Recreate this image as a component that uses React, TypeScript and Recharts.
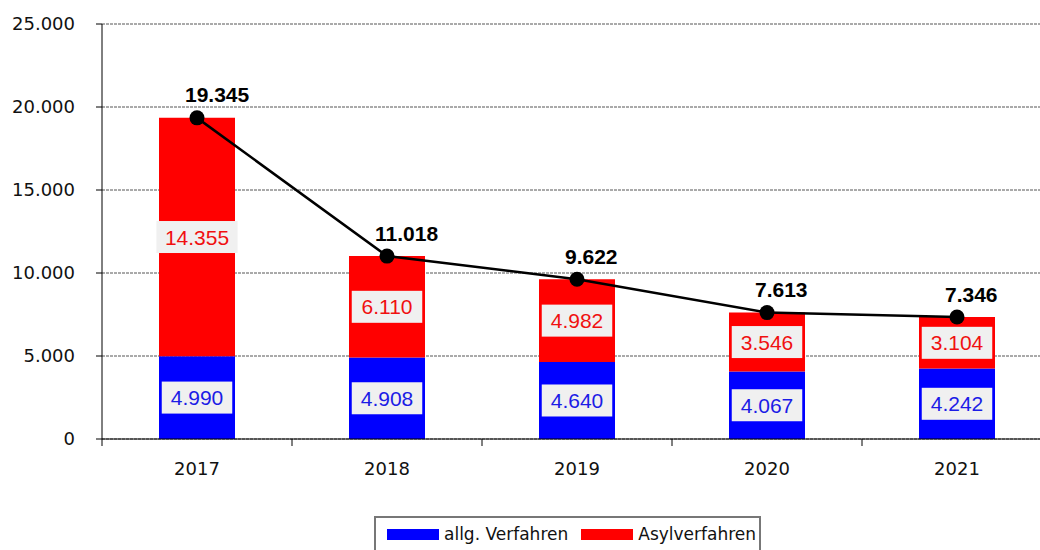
import {
  Bar,
  CartesianGrid,
  ComposedChart,
  LabelList,
  Legend,
  Line,
  XAxis,
  YAxis,
} from "recharts";

const years = ["2017", "2018", "2019", "2020", "2021"];
const allgVerfahren = [4990, 4908, 4640, 4067, 4242];
const asylVerfahren = [14355, 6110, 4982, 3546, 3104];
const gesamt = [19345, 11018, 9622, 7613, 7346];
const yTicks = [0, 5000, 10000, 15000, 20000, 25000];

const CHART_WIDTH = 1060;
const CHART_HEIGHT = 550;
const Y_AXIS_WIDTH = 102;
const RIGHT_MARGIN = 8;
const HALF_BAND = (CHART_WIDTH - Y_AXIS_WIDTH - RIGHT_MARGIN) / years.length / 2;

const data = years.map((year, i) => ({
  year,
  allg: allgVerfahren[i],
  asyl: asylVerfahren[i],
  total: gesamt[i],
}));

// German thousands separator: 14355 -> "14.355"
function formatDe(value: number) {
  return String(Math.round(value)).replace(/\B(?=(\d{3})+(?!\d))/g, ".");
}

function makeBoxLabel(color: string) {
  return (props: any) => {
    const { x, y, width, height, value } = props;
    const text = formatDe(Number(value));
    const cx = Number(x) + Number(width) / 2;
    const cy = Number(y) + Number(height) / 2;
    const boxW = text.length * 10.7 + 17;
    const boxH = 32;
    return (
      <g>
        <rect x={cx - boxW / 2} y={cy - boxH / 2} width={boxW} height={boxH} fill="#f0f0f0" />
        <text
          x={cx}
          y={cy}
          textAnchor="middle"
          dominantBaseline="central"
          fill={color}
          fontSize={21}
          fontFamily="'Liberation Sans', Arial, sans-serif"
        >
          {text}
        </text>
      </g>
    );
  };
}

function TotalLabel(props: any) {
  const { x, y, value } = props;
  return (
    <text
      x={Number(x) - 12}
      y={Number(y) - 23}
      dominantBaseline="central"
      fill="#000"
      fontSize={21}
      fontWeight="bold"
      fontFamily="'Liberation Sans', Arial, sans-serif"
    >
      {formatDe(Number(value))}
    </text>
  );
}

function YearTick(props: any) {
  const { x, y, payload } = props;
  return (
    <g>
      <line x1={x - HALF_BAND} x2={x - HALF_BAND} y1={y} y2={y + 7} stroke="#000" />
      <text
        x={x}
        y={y + 36}
        textAnchor="middle"
        fill="#111"
        fontSize={18}
        fontFamily="'DejaVu Sans', Verdana, sans-serif"
      >
        {payload.value}
      </text>
    </g>
  );
}

function LegendBox() {
  const items = [
    { label: "allg. Verfahren", color: "#0000ff" },
    { label: "Asylverfahren", color: "#ff0000" },
  ];
  return (
    <div
      style={{
        boxSizing: "border-box",
        height: 36,
        border: "2px solid #777",
        display: "flex",
        alignItems: "center",
        paddingLeft: 11,
        paddingRight: 3,
        fontFamily: "'DejaVu Sans', Verdana, sans-serif",
        fontSize: 17,
        color: "#111",
        whiteSpace: "nowrap",
      }}
    >
      {items.map((item, i) => (
        <div
          key={item.label}
          style={{ display: "flex", alignItems: "center", marginLeft: i === 0 ? 0 : 13 }}
        >
          <span
            style={{ display: "inline-block", width: 52, height: 11, background: item.color, marginRight: 5 }}
          />
          <span>{item.label}</span>
        </div>
      ))}
    </div>
  );
}

export default function App() {
  return (
    <div
      style={{
        position: "absolute",
        left: 0,
        top: 0,
        width: 1040,
        height: 550,
        overflow: "hidden",
        background: "#fff",
      }}
    >
      <ComposedChart
        width={CHART_WIDTH}
        height={CHART_HEIGHT}
        data={data}
        margin={{ top: 24, right: RIGHT_MARGIN, left: 0, bottom: 0 }}
      >
        <CartesianGrid vertical={false} stroke="#555" strokeDasharray="3 1" />
        <XAxis
          dataKey="year"
          height={75}
          axisLine={{ stroke: "#000" }}
          tickLine={false}
          tickSize={0}
          tickMargin={0}
          tick={YearTick}
          interval={0}
        />
        <YAxis
          width={Y_AXIS_WIDTH}
          domain={[0, 25000]}
          ticks={yTicks}
          interval={0}
          axisLine={{ stroke: "#000" }}
          tickLine={{ stroke: "#000" }}
          tickSize={6}
          tickMargin={21}
          tickFormatter={(v: number) => formatDe(v)}
          tick={{ fill: "#111", fontSize: 18, fontFamily: "'DejaVu Sans', Verdana, sans-serif" }}
        />
        <Legend
          verticalAlign="bottom"
          content={() => <LegendBox />}
          wrapperStyle={{ left: 374, top: 516, bottom: "auto", width: "auto" }}
        />
        <Bar dataKey="allg" name="allg. Verfahren" stackId="a" fill="#0000ff" barSize={76} isAnimationActive={false}>
          <LabelList dataKey="allg" content={makeBoxLabel("#1c1ce6")} />
        </Bar>
        <Bar dataKey="asyl" name="Asylverfahren" stackId="a" fill="#ff0000" barSize={76} isAnimationActive={false}>
          <LabelList dataKey="asyl" content={makeBoxLabel("#f01010")} />
        </Bar>
        <Line
          dataKey="total"
          type="linear"
          stroke="#000"
          strokeWidth={2.5}
          dot={{ r: 7.5, fill: "#000", stroke: "#000", strokeWidth: 0 }}
          activeDot={false}
          legendType="none"
          isAnimationActive={false}
        >
          <LabelList dataKey="total" content={TotalLabel} />
        </Line>
      </ComposedChart>
    </div>
  );
}
